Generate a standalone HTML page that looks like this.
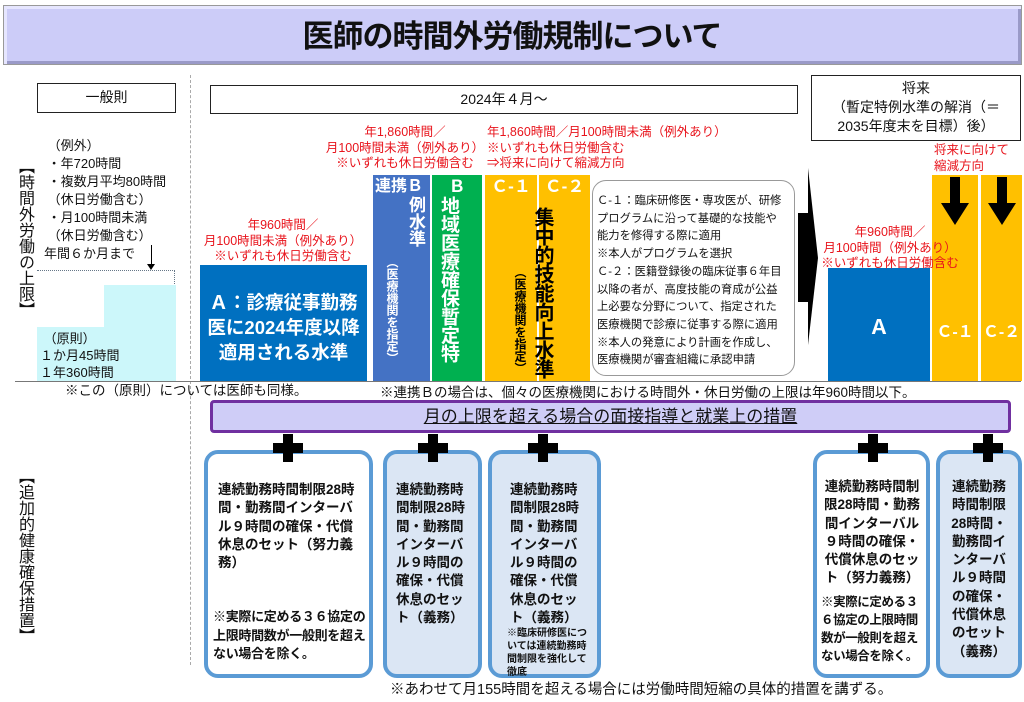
<!DOCTYPE html>
<html><head><meta charset="utf-8">
<style>
*{margin:0;padding:0;box-sizing:border-box}
body{width:1024px;height:702px;background:#fff;overflow:hidden;font-family:"Liberation Sans","Noto Sans CJK JP",sans-serif;color:#111}
#c{position:relative;width:1024px;height:702px}
.a{position:absolute;white-space:nowrap}
.red{color:#e8141c;font-size:12.5px;line-height:15.5px;text-align:center}
.vt{writing-mode:vertical-rl;text-orientation:upright;position:absolute;font-weight:bold}
.bx{position:absolute;border:4px solid #5b9bd5;border-radius:14px;font-weight:bold;font-size:13.5px;line-height:18.3px;top:450px;height:228px;padding-top:27px}
.lb{background:#dbe6f4}
.plus{position:absolute;width:30px;height:28px}
.plus:before{content:"";position:absolute;left:10px;top:0;width:10px;height:28px;background:#000}
.plus:after{content:"";position:absolute;left:0;top:9px;width:30px;height:10px;background:#000}
</style></head><body><div id="c">
<div class="a" style="left:3px;top:5px;width:1019px;height:60px;background:#ccccf8;border:1px solid #999;box-shadow:inset 3px 3px 0 #e6e6ff,inset -3px -3px 0 #9a9ac8"></div>
<div class="a" style="left:0;top:17px;width:1024px;text-align:center;font-size:31px;font-weight:bold;line-height:40px;letter-spacing:-1px">医師の時間外労働規制について</div>

<div class="a" style="left:190px;top:75px;height:590px;border-left:1px dashed #aaa"></div>

<div class="a" style="left:37px;top:83px;width:139px;height:30px;border:1.5px solid #222;text-align:center;font-size:14px;line-height:27px">一般則</div>
<div class="a" style="left:210px;top:85px;width:588px;height:29px;border:1.5px solid #222;text-align:center;font-size:14px;line-height:26px">2024年４月～</div>
<div class="a" style="left:811px;top:75px;width:210px;height:66px;border:1.5px solid #222;text-align:center;font-size:14px;line-height:19px;padding-top:3px">将来<br>（暫定特例水準の解消（＝<br>2035年度末を目標）後）</div>

<div class="vt" style="left:14px;top:158px;font-size:16px;font-weight:normal;line-height:20px">【時間外労働の上限】</div>
<div class="vt" style="left:14px;top:468px;font-size:16px;font-weight:normal;line-height:20px">【追加的健康確保措置】</div>

<div class="a" style="left:44px;top:137px;font-size:13px;line-height:18px">&nbsp;（例外）<br>&nbsp;・年720時間<br>&nbsp;・複数月平均80時間<br>&nbsp;（休日労働含む）<br>&nbsp;・月100時間未満<br>&nbsp;（休日労働含む）<br>年間６か月まで</div>
<div class="a" style="left:151px;top:245px;width:1px;height:22px;background:#000"></div>
<div class="a" style="left:147px;top:264px;width:0;height:0;border-left:4px solid transparent;border-right:4px solid transparent;border-top:6px solid #000"></div>
<div class="a" style="left:37px;top:270px;width:138px;height:16px;border-top:1px dotted #678;border-right:1px dotted #678"></div>
<div class="a" style="left:37px;top:327px;width:68px;height:54px;background:#ccf7fa"></div>
<div class="a" style="left:104px;top:285px;width:72px;height:96px;background:#ccf7fa"></div>
<div class="a" style="left:40px;top:330px;font-size:13px;line-height:17px">&nbsp;（原則）<br>１か月45時間<br>１年360時間</div>

<div class="a" style="left:15px;top:381px;width:1006px;height:1px;background:#777"></div>
<div class="a" style="left:65px;top:382px;font-size:13.5px;line-height:17px">※この（原則）については医師も同様。</div>

<div class="a red" style="left:193px;top:218px;width:180px">年960時間／<br>月100時間未満（例外あり）<br>※いずれも休日労働含む</div>
<div class="a" style="left:200px;top:265px;width:167px;height:116px;background:#0070c0;color:#fff;font-weight:bold;font-size:18.5px;line-height:25px;text-align:center;padding-top:25px">Ａ：診療従事勤務<br>医に2024年度以降<br>適用される水準</div>

<div class="a red" style="left:315px;top:125px;width:180px">年1,860時間／<br>月100時間未満（例外あり）<br>※いずれも休日労働含む</div>
<div class="a red" style="left:487px;top:125px;text-align:left">年1,860時間／月100時間未満（例外あり）<br>※いずれも休日労働含む<br>⇒将来に向けて縮減方向</div>

<div class="a" style="left:373px;top:175px;width:57px;height:206px;background:#4472c4"></div>
<div class="a" style="left:432px;top:175px;width:50px;height:206px;background:#00b050"></div>
<div class="a" style="left:485px;top:175px;width:52px;height:206px;background:#ffc000"></div>
<div class="a" style="left:539px;top:175px;width:51px;height:206px;background:#ffc000"></div>
<div class="a" style="left:375px;top:177px;color:#fff;font-weight:bold;font-size:16px;line-height:20px">連携Ｂ</div>
<div class="a" style="left:432px;top:177px;width:50px;text-align:center;color:#fff;font-weight:bold;font-size:17px;line-height:20px">Ｂ</div>
<div class="a" style="left:485px;top:177px;width:52px;text-align:center;color:#fff;font-weight:bold;font-size:17px;line-height:20px">Ｃ-１</div>
<div class="a" style="left:539px;top:177px;width:51px;text-align:center;color:#fff;font-weight:bold;font-size:17px;line-height:20px">Ｃ-２</div>
<div class="vt" style="left:405px;top:196px;color:#fff;font-size:17px;line-height:20px">例水準</div>
<div class="vt" style="left:384px;top:256px;color:#fff;font-size:12px;line-height:16px">（医療機関を指定）</div>
<div class="vt" style="left:437px;top:196px;color:#fff;font-size:19px;line-height:22px;letter-spacing:-0.5px">地域医療確保暫定特</div>
<div class="vt" style="left:531px;top:207px;color:#000;font-size:20px;line-height:22px;letter-spacing:-1px">集中的技能向上水準</div>
<div class="vt" style="left:512px;top:266px;color:#000;font-size:12px;line-height:16px">（医療機関を指定）</div>

<div class="a" style="left:592px;top:180px;width:203px;height:196px;border:1px solid #999;border-radius:14px"></div>
<div class="a" style="left:597px;top:193px;font-size:11.3px;line-height:17.7px">Ｃ-１：臨床研修医・専攻医が、研修<br>プログラムに沿って基礎的な技能や<br>能力を修得する際に適用<br>※本人がプログラムを選択<br>Ｃ-２：医籍登録後の臨床従事６年目<br>以降の者が、高度技能の育成が公益<br>上必要な分野について、指定された<br>医療機関で診療に従事する際に適用<br>※本人の発意により計画を作成し、<br>医療機関が審査組織に承認申請</div>

<svg class="a" style="left:795px;top:160px" width="30" height="200"><rect x="3" y="53" width="12" height="89" fill="#000"/><polygon points="13,8 23,98 13,185" fill="#000"/></svg>

<div class="a" style="left:932px;top:175px;width:46px;height:206px;background:#ffc000"></div>
<div class="a" style="left:981px;top:175px;width:41px;height:206px;background:#ffc000"></div>
<div class="a" style="left:828px;top:268px;width:102px;height:113px;background:#0070c0;color:#fff;font-size:20px;font-weight:bold;text-align:center;line-height:20px;padding-top:50px">Ａ</div>
<div class="a red" style="left:800px;top:225px;width:180px">年960時間／<br>月100時間（例外あり）<br>※いずれも休日労働含む</div>
<div class="a" style="left:932px;top:318px;width:46px;text-align:center;color:#fff;font-weight:bold;font-size:16px">Ｃ-１</div>
<div class="a" style="left:981px;top:318px;width:41px;text-align:center;color:#fff;font-weight:bold;font-size:16px">Ｃ-２</div>
<div class="a red" style="left:934px;top:143px;text-align:left">将来に向けて<br>縮減方向</div>
<svg class="a" style="left:940px;top:177px" width="30" height="50"><polygon points="10,0 20,0 20,26 29,26 15,48 1,26 10,26" fill="#000"/></svg>
<svg class="a" style="left:987px;top:177px" width="30" height="50"><polygon points="10,0 20,0 20,26 29,26 15,48 1,26 10,26" fill="#000"/></svg>

<div class="a" style="left:380px;top:384px;font-size:13.5px;line-height:17px">※連携Ｂの場合は、個々の医療機関における時間外・休日労働の上限は年960時間以下。</div>

<div class="a" style="left:210px;top:400px;width:801px;height:33px;background:#cfcdf7;border:3px solid #7030a0;border-radius:4px;text-align:center;font-size:17px;line-height:27px"><span style="text-decoration:underline">月の上限を超える場合の面接指導と就業上の措置</span></div>

<div class="bx" style="left:204px;width:169px;padding-left:10px;padding-right:14px">連続勤務時間制限28時間・勤務間インターバル９時間の確保・代償休息のセット（努力義務）<div style="margin-top:36px;margin-left:-5px;margin-right:-12px;font-size:13px;letter-spacing:-0.3px">※実際に定める３６協定の上限時間数が一般則を超えない場合を除く。</div></div>
<div class="bx lb" style="left:383px;width:99px;padding-left:9px;padding-right:6px">連続勤務時間制限28時間・勤務間インターバル９時間の確保・代償休息のセット（義務）</div>
<div class="bx lb" style="left:488px;width:113px;padding-left:18px;padding-right:14px">連続勤務時間制限28時間・勤務間インターバル９時間の確保・代償休息のセット（義務）<div style="font-size:10px;line-height:13px;margin-left:-3px;margin-right:-4px">※臨床研修医については連続勤務時間制限を強化して徹底</div></div>
<div class="bx" style="left:813px;width:117px;padding:24px 3px 0 4px;text-align:center;font-size:13.5px">連続勤務時間制限28時間・勤務間インターバル９時間の確保・代償休息のセット（努力義務）<div style="margin-top:5px;text-align:left;font-size:12.5px;line-height:18px;letter-spacing:-0.4px;margin-right:-2px">※実際に定める３６協定の上限時間数が一般則を超えない場合を除く。</div></div>
<div class="bx lb" style="left:936px;width:86px;padding:24px 6px 0 6px;text-align:center">連続勤務時間制限28時間・勤務間インターバル９時間の確保・代償休息のセット（義務）</div>

<div class="plus" style="left:273px;top:434px"></div>
<div class="plus" style="left:418px;top:434px"></div>
<div class="plus" style="left:528px;top:434px"></div>
<div class="plus" style="left:858px;top:434px"></div>
<div class="plus" style="left:973px;top:434px"></div>

<div class="a" style="left:390px;top:681px;font-size:14.5px;line-height:18px">※あわせて月155時間を超える場合には労働時間短縮の具体的措置を講ずる。</div>
</div></body></html>
